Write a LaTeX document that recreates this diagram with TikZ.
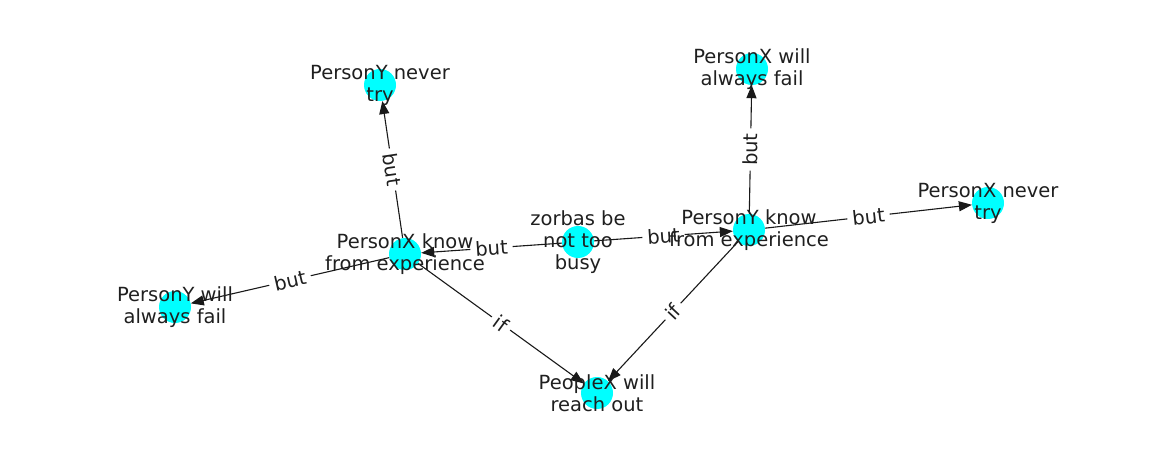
\documentclass[tikz,border=0pt]{standalone}
\usepackage{fontspec}
\setmainfont{DejaVu Sans}
\usetikzlibrary{arrows.meta}
\definecolor{nodecyan}{rgb}{0,1,1}

\begin{document}
\begin{tikzpicture}[x=1pt, y=-1pt,
  dot/.style={circle, fill=nodecyan, inner sep=0pt, minimum size=32pt},
  caption/.style={align=center, text=black!88, inner sep=0pt, font=\fontsize{19.5}{22}\selectfont},
  link/.style={-{Triangle[length=13pt,width=10pt]}, line width=1.1pt, black!90},
  rel/.style={midway, sloped, fill=white, rounded corners=3pt, inner xsep=5pt, inner ysep=3pt, text=black!88, font=\fontsize{19.5}{22}\selectfont}]
  % fix the page to the reference size (pixel coordinates)
  \useasboundingbox (0,0) rectangle (1162,462);

  % nodes (centres)
  \node[dot] (zorbas) at (578,242) {};
  \node[dot] (xknow) at (405,254) {};
  \node[dot] (yknow) at (749,230) {};
  \node[dot] (ynever) at (380,85) {};
  \node[dot] (xfail) at (752,69) {};
  \node[dot] (xnever) at (988,203) {};
  \node[dot] (yfail) at (175,307) {};
  \node[dot] (reach) at (597,393) {};

  % edges
  \draw[link] (zorbas) -- (xknow) node[rel] (e1) {but};
  \draw[link] (zorbas) -- (yknow) node[rel] (e2) {but};
  \draw[link] (xknow) -- (ynever) node[rel] (e3) {but};
  \draw[link] (xknow) -- (yfail) node[rel] (e4) {but};
  \draw[link] (xknow) -- (reach) node[rel] (e5) {if};
  \draw[link] (yknow) -- (xfail) node[rel] (e6) {but};
  \draw[link] (yknow) -- (xnever) node[rel] (e7) {but};
  \draw[link] (yknow) -- (reach) node[rel] (e8) {if};

  % node texts
  \node[caption] (zorbasT) at (zorbas) {zorbas be\\not too\\busy};
  \node[caption] (xknowT) at (xknow) {PersonX know\\from experience};
  \node[caption] (yknowT) at (yknow) {PersonY know\\from experience};
  \node[caption] (yneverT) at (ynever) {PersonY never\\try};
  \node[caption] (xfailT) at (xfail) {PersonX will\\always fail};
  \node[caption] (xneverT) at (xnever) {PersonX never\\try};
  \node[caption] (yfailT) at (yfail) {PersonY will\\always fail};
  \node[caption] (reachT) at (reach) {PeopleX will\\reach out};
\end{tikzpicture}
\end{document}
